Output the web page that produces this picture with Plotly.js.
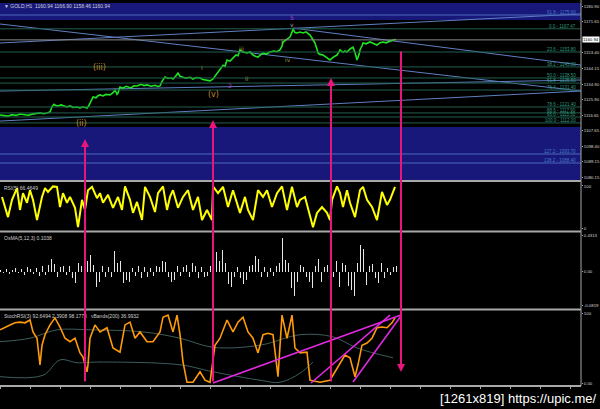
<!DOCTYPE html>
<html><head><meta charset="utf-8">
<script src="https://cdn.plot.ly/plotly-3.0.1.min.js"></script>
<style>html,body{margin:0;padding:0;background:#000;}#chart{width:600px;height:409px;}</style>
</head><body><div id="chart"></div>
<script>
// ---------- DATA ----------
const priceX = [0,4,8,12,16,20,24,28,32,36,40,44,48,50,52,54,56,58,61,64,67,70,73,77,80,83,87,89,91,93,96,98,100,103,106,110,113,115,117,118,120,123,126,128,131,134,137,141,144,147,151,155,158,160,162,165,168,171,173,176,178,180,183,186,190,193,196,200,203,207,210,213,216,220,223,225,227,230,233,236,238,240,243,247,250,253,256,258,261,263,266,270,274,277,280,282,283,286,288,290,292,293,295,297,300,303,306,310,313,315,317,318,320,323,326,328,330,333,335,337,340,343,345,347,350,353,355,357,359,360,362,363,366,370,373,377,380,383,386,390,393,396];
const priceY = [1116.7,1116.2,1116.0,1116.9,1116.4,1117.3,1116.8,1116.5,1117.2,1117.6,1117.9,1117.4,1118.2,1118.4,1121.5,1123.0,1122.2,1122.0,1122.6,1121.8,1121.4,1122.0,1121.2,1121.4,1120.9,1121.5,1120.8,1122.4,1124.6,1127.3,1126.8,1128.0,1128.5,1127.9,1128.8,1128.5,1129.8,1131.4,1128.9,1129.6,1133.2,1132.5,1133.6,1133.2,1132.6,1133.9,1133.8,1134.8,1134.0,1134.4,1133.6,1134.2,1133.5,1133.8,1136.5,1139.1,1138.2,1138.6,1137.9,1139.8,1141.4,1139.5,1139.1,1138.4,1138.9,1137.9,1138.8,1138.5,1137.6,1137.3,1136.8,1137.9,1140.5,1143.2,1146.0,1145.2,1149.1,1148.4,1150.3,1152.1,1151.6,1155.0,1153.8,1153.2,1154.0,1152.0,1151.1,1150.8,1152.4,1153.2,1152.6,1153.8,1154.4,1154.0,1155.0,1157.2,1159.7,1160.8,1161.5,1162.6,1165.5,1167.4,1165.2,1165.0,1165.6,1165.0,1165.7,1163.8,1161.0,1159.1,1155.4,1153.2,1152.4,1152.0,1150.8,1150.1,1149.1,1150.6,1151.2,1152.0,1155.0,1153.6,1154.4,1153.8,1155.6,1156.7,1153.5,1149.1,1152.3,1155.0,1157.5,1159.1,1158.6,1159.7,1159.0,1157.9,1159.2,1159.7,1159.2,1160.4,1160.9,1161.2];
const lastPrice = 1160.94;

const fibPrices = [1175.60,1167.47,1153.80,1145.00,1138.50,1135.50,1131.40,1121.40,1117.90,1115.50,1112.00,1093.70,1088.40];
const fibLabels = ["61.8 - 1175.60","0.0 - 1167.47","23.6 - 1153.80","38.2 - 1145.00","50.0 - 1138.50","61.8 - 1135.50","76.4 - 1131.40","78.6 - 1121.40","88.6 - 1117.90","95.0 - 1115.50","100.0 - 1112.00","127.2 - 1093.70","138.2 - 1088.40"];
const zoneTop = [1172.65, 1182.70];
const zoneBottom = [1078.40, 1109.60];

// trendlines: [x0, x1], [price0, price1]
const trendX = [[0,581],[293,581],[0,581],[0,581],[0,581]];
const trendP = [[1170.3,1130.8],[1167.9,1146.1],[1159.1,1176.2],[1113.1,1130.8],[1130.8,1137.3]];

const waveText = ["(iii)","(ii)","(v)","iii","i","ii","iv","i","2","5","v"];
const waveX = [99,81,213,241,202,247,288,282,230,292,292];
const waveP = [1144.4,1111.4,1129.0,1155.6,1144.4,1137.9,1149.1,1159.7,1133.8,1174.4,1170.3];

const priceTickVals = [1180.90,1171.65,1153.40,1144.15,1134.90,1125.90,1116.65,1107.65,1098.40,1089.15,1080.15];

const rsiX = [2,5,8,12,17,20,23,27,30,33,37,42,45,48,53,57,60,63,67,70,75,78,82,85,88,92,97,100,103,108,113,118,122,125,130,133,137,142,145,150,155,158,163,167,170,173,178,183,188,193,198,202,207,212,213,218,223,228,233,240,245,248,253,258,263,267,272,277,282,287,292,297,300,305,310,313,317,322,327,330,332,337,340,343,347,350,355,360,363,367,372,377,382,387,390,395];
const rsiY = [74,50,26,67,95,43,83,60,90,67,19,74,95,86,99,98,50,83,60,74,48,2,67,43,90,98,71,83,60,79,48,74,43,99,67,36,62,19,98,74,38,83,99,43,74,90,48,74,90,43,74,19,43,19,99,83,98,50,90,36,74,43,19,90,74,90,50,83,99,43,98,50,67,74,26,2,36,50,36,19,67,99,83,50,90,60,26,90,98,67,50,19,86,55,67,98];

const osmaStep = 3;
const osmaY = [0.02,-0.02,0.03,-0.03,0.02,0.04,-0.02,0.03,-0.04,0.05,0.03,-0.03,0.04,-0.05,0.06,-0.04,
 0.08,0.15,0.09,-0.06,0.05,0.07,-0.04,0.06,-0.08,-0.13,0.10,0.06,-0.05,0.12,0.19,0.08,-0.18,-0.12,0.06,-0.07,0.05,-0.06,0.24,0.10,0.13,-0.13,-0.10,-0.12,0.04,-0.05,0.06,-0.08,0.05,-0.06,0.04,-0.05,0.07,0.05,0.13,0.11,-0.07,-0.12,-0.10,0.06,-0.05,0.05,0.08,-0.06,0.10,0.07,-0.08,0.05,-0.06,-0.05,0.07,0.18,0.23,0.12,0.25,0.10,-0.15,-0.18,-0.06,0.05,-0.08,-0.15,-0.10,0.06,0.08,0.18,0.15,-0.07,0.05,-0.06,0.04,-0.05,0.07,0.10,0.40,0.14,0.10,-0.20,-0.29,-0.12,0.08,0.05,-0.06,-0.12,-0.19,0.06,0.15,-0.12,0.05,0.08,0.13,-0.06,0.13,-0.18,0.10,0.08,-0.17,-0.22,-0.29,0.10,0.31,0.27,-0.16,0.06,0.09,-0.08,-0.14,0.10,-0.08,0.04,-0.04,0.05,0.07];
const osmaTickVals = [0.4313, 0, -0.407];
const osmaTickText = ["0.4313","0.00","-0.0819"];

const stochX = [0,5,10,15,20,25,30,33,37,40,42,45,50,55,60,65,70,75,80,83,87,88,90,95,100,107,113,120,125,130,135,140,147,153,160,163,168,173,177,180,183,187,193,200,205,210,215,220,227,233,238,243,248,253,258,263,268,273,278,282,287,292,295,300,307,310,320,330,333,340,345,350,355,358,362,367,372,377,382,387,392,395];
const stochY = [76,80,83,86,87,86,90,73,64,26,54,69,83,93,80,64,59,64,43,37,16,26,64,83,73,79,50,44,83,87,64,73,59,59,73,94,97,73,97,69,30,1,1,16,4,1,54,64,90,73,87,94,73,64,43,69,71,69,9,97,64,97,50,43,44,4,1,4,11,29,40,36,9,26,54,57,64,79,80,79,86,93];
const bandMidX = [0,30,57,90,143,180,213,260,300,333,357,393];
const bandMidY = [59,64,76,76,73,64,51,54,69,66,50,36];
const bandLowX = [0,43,60,77,100,180,213,260,280,300,313];
const bandLowY = [9,11,33,29,30,26,16,4,1,14,30];
const stochTrendX = [[213,401],[311,390],[353,401]];
const stochTrendY = [[0,97.1],[0,97],[1.4,95.7]];

// signal arrows: x, direction
const signalX = [85,213,331,401];
const signalDir = ["up","up","up","down"];

// ---------- LAYOUT HELPERS ----------
const H = 386;               // plot area height in px
const pp = p => (H - p) / H; // pixel-from-top -> paper
const MAIN = [1078.38, 1184.44];

const traces = [];
trendX.forEach((xs, i) => traces.push({x: xs, y: trendP[i], mode: 'lines', line: {color: '#5f7fc0', width: 1}, yaxis: 'y', xaxis: 'x', hoverinfo: 'skip'}));
traces.push({x: priceX, y: priceY, mode: 'lines', line: {color: '#1ee61e', width: 1.6}, yaxis: 'y', xaxis: 'x'});
traces.push({x: rsiX, y: rsiY, mode: 'lines', line: {color: '#ffff00', width: 2}, yaxis: 'y2', xaxis: 'x'});
traces.push({type: 'bar', x: osmaY.map((_, i) => i * osmaStep), y: osmaY, width: 1, marker: {color: '#e6e6e6', line: {width: 0}}, yaxis: 'y3', xaxis: 'x'});
traces.push({x: bandMidX, y: bandMidY, mode: 'lines', line: {color: '#3d5d5d', width: 1, shape: 'spline'}, yaxis: 'y4', xaxis: 'x'});
traces.push({x: bandLowX, y: bandLowY, mode: 'lines', line: {color: '#3d5d5d', width: 1, shape: 'spline'}, yaxis: 'y4', xaxis: 'x'});
traces.push({x: stochX, y: stochY, mode: 'lines', line: {color: '#ff9a0a', width: 1.6}, yaxis: 'y4', xaxis: 'x'});
stochTrendX.forEach((xs, i) => traces.push({x: xs, y: stochTrendY[i], mode: 'lines', line: {color: '#e02ae0', width: 1.6}, yaxis: 'y4', xaxis: 'x'}));

const shapes = [];
[zoneTop, zoneBottom].forEach(z => shapes.push({type: 'rect', xref: 'x', yref: 'y', x0: 0, x1: 581, y0: z[0], y1: z[1], fillcolor: '#18187a', line: {width: 0}, layer: 'below'}));
fibPrices.forEach((p, i) => shapes.push({type: 'line', xref: 'x', yref: 'y', x0: 0, x1: 581, y0: p, y1: p,
  line: {color: (i === 0 || i >= 11) ? '#4a6ab8' : '#21604f', width: 1}}));
shapes.push({type: 'line', xref: 'x', yref: 'y', x0: 0, x1: 581, y0: lastPrice, y1: lastPrice, line: {color: '#8a8a8a', width: 1}});
[181, 231.5, 309.5, 386].forEach(p => shapes.push({type: 'line', xref: 'paper', yref: 'paper', x0: 0, x1: 1, y0: pp(p), y1: pp(p), line: {color: '#a8a8a8', width: 2}}));
shapes.push({type: 'line', xref: 'paper', yref: 'paper', x0: 1, x1: 1, y0: 0, y1: 1, line: {color: '#a8a8a8', width: 1}});

const SMALL = 'Liberation Sans, Arial, sans-serif';
const annotations = [];
fibPrices.forEach((p, i) => annotations.push({xref: 'x', yref: 'y', x: 578, y: p, text: fibLabels[i], showarrow: false, xanchor: 'right', yanchor: 'bottom', yshift: -2,
  font: {family: SMALL, size: 4.5, color: (i === 0 || i >= 11) ? '#4a78c8' : '#2f9a7e'}}));
const waveColor = t => t.startsWith('(') ? '#c08a2a' : (t === '2' || t === '5') ? '#b040c0' : (t === 'v' ? '#a0a0a0' : '#9a9a3a');
waveText.forEach((t, i) => annotations.push({xref: 'x', yref: 'y', x: waveX[i], y: waveP[i], text: t, showarrow: false,
  font: {family: 'DejaVu Sans', size: t.startsWith('(') ? 8 : 6, color: waveColor(t)}}));
annotations.push({xref: 'paper', yref: 'y', x: 1, y: lastPrice, text: lastPrice.toFixed(2), showarrow: false, xanchor: 'left', xshift: 1,
  bgcolor: '#ffffff', borderpad: 0, font: {family: SMALL, size: 4.3, color: '#000'}});
const titleFont = {family: SMALL, size: 5, color: '#cfcfcf'};
annotations.push({xref: 'paper', yref: 'paper', x: 0.004, y: pp(0.5), xanchor: 'left', yanchor: 'top', showarrow: false, text: '▼ GOLD,H1  1160.94 1166.90 1158.46 1160.94', font: titleFont});
annotations.push({xref: 'paper', yref: 'paper', x: 0.004, y: pp(182.5), xanchor: 'left', yanchor: 'top', showarrow: false, text: 'RSI(5) 66.4649', font: titleFont});
annotations.push({xref: 'paper', yref: 'paper', x: 0.004, y: pp(233), xanchor: 'left', yanchor: 'top', showarrow: false, text: 'OsMA(5,12,3) 0.1038', font: titleFont});
annotations.push({xref: 'paper', yref: 'paper', x: 0.004, y: pp(311), xanchor: 'left', yanchor: 'top', showarrow: false, text: 'StochRSI(3) 92.6494 2.3908 98.1773   vBands(200) 36.9932', font: titleFont});
const arrowHeads = {up: [139, 120, 78], down: [372]};
signalX.forEach((x, i) => {
  let head, tail;
  if (signalDir[i] === 'up') { head = arrowHeads.up[i]; tail = 383; }
  else { head = 372; tail = 50; }
  annotations.push({xref: 'x', yref: 'paper', x: x, y: pp(head), ax: 0, ay: tail - head, axref: 'pixel', ayref: 'pixel',
    showarrow: true, arrowhead: 2, arrowsize: 0.8, arrowwidth: 2, arrowcolor: '#e8167c', text: ''});
});
annotations.push({xref: 'paper', yref: 'paper', x: 598 / 581, y: pp(398), xanchor: 'right', yanchor: 'middle', showarrow: false,
  text: '[1261x819] https://upic.me/', font: {family: 'Liberation Sans, sans-serif', size: 13, color: '#ffffff'}});

const axisCommon = {side: 'right', showgrid: false, zeroline: false, showline: false, ticks: 'outside', ticklen: 1, tickcolor: '#a8a8a8',
  tickfont: {family: SMALL, size: 4.3, color: '#d8d8d8'}, fixedrange: true};

const layout = {
  width: 600, height: 409,
  margin: {l: 0, r: 19, t: 0, b: 23},
  paper_bgcolor: '#000', plot_bgcolor: '#000',
  showlegend: false, bargap: 0,
  xaxis: {range: [0, 581], showgrid: false, zeroline: false, showticklabels: false, ticks: 'outside', ticklen: 2, tickcolor: '#a8a8a8', dtick: 30, tick0: 0, anchor: 'y4', showline: false},
  yaxis: Object.assign({}, axisCommon, {domain: [pp(180), 1], range: MAIN, tickvals: priceTickVals, ticktext: priceTickVals.map(v => v.toFixed(2))}),
  yaxis2: Object.assign({}, axisCommon, {domain: [pp(231), pp(182)], range: [-7.1, 109.5], tickvals: [100, 0], ticktext: ['100', '0']}),
  yaxis3: Object.assign({}, axisCommon, {domain: [pp(309), pp(232)], range: [-0.443, 0.467], tickvals: osmaTickVals, ticktext: osmaTickText}),
  yaxis4: Object.assign({}, axisCommon, {domain: [0, pp(310)], range: [-4.29, 104.3], tickvals: [100, 0], ticktext: ['100', '0.00']}),
  shapes: shapes, annotations: annotations
};
Plotly.newPlot('chart', traces, layout, {staticPlot: true, displayModeBar: false});
</script></body></html>
